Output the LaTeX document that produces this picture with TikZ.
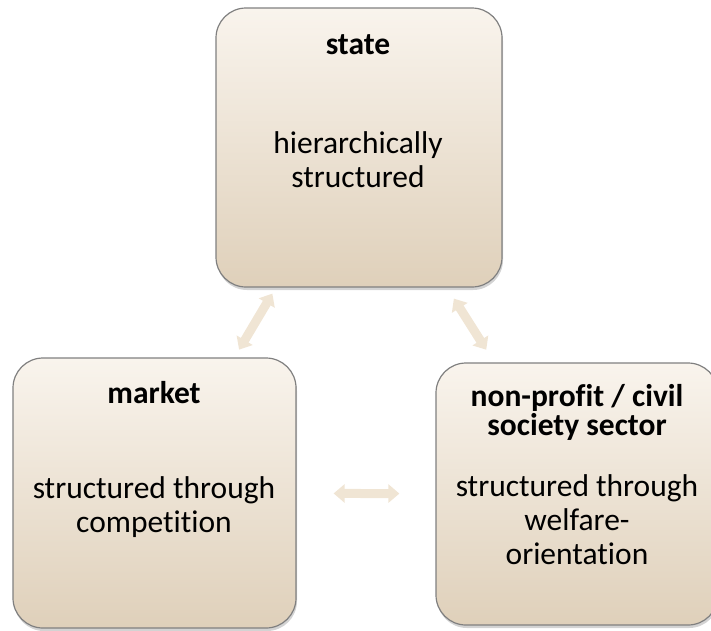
\documentclass[tikz,border=0pt]{standalone}
\usepackage{fontspec}
\setmainfont{Carlito}[Ligatures={NoCommon}]
\usetikzlibrary{positioning}
\usetikzlibrary{shadows}
\usetikzlibrary{arrows.meta}
\definecolor{boxtop}{RGB}{249,244,237}
\definecolor{boxbottom}{RGB}{223,208,186}
\definecolor{arrowfill}{RGB}{240,229,212}
\tikzstyle{sectorbox}=[rectangle,rounded corners=30pt,draw=black!50,line width=1.2pt,top color=boxtop,bottom color=boxbottom,drop shadow={shadow xshift=1pt,shadow yshift=-3pt,opacity=0.35},inner sep=0pt]
\tikzstyle{heading}=[font=\fontsize{31.5}{29}\selectfont\bfseries,align=center,inner sep=0pt]
\tikzstyle{body}=[font=\fontsize{31.5}{34}\selectfont,align=center,inner sep=0pt]
\tikzstyle{link}=[draw=arrowfill,line width=9pt,{Triangle[width=18pt,length=11pt]}-{Triangle[width=18pt,length=11pt]}]

\begin{document}
\begin{tikzpicture}[x=1pt,y=-1pt]
    \useasboundingbox (0,0) rectangle (711,630);
    % First the three boxes
    \foreach \pos/\name/\w/\h in {{(359,147.5)/state/286/279}, {(154.5,493)/market/283/270}, {(577,494)/sector/282/262}}
        \node[sectorbox, minimum width=\w pt, minimum height=\h pt] (\name) at \pos {};

    % Headings and descriptions
    \node[heading] (statehead) at (358,45) {state};
    \node[body] (statebody) at (358,160) {hierarchically\\structured};
    \node[heading] (markethead) at (154,393) {market};
    \node[body] (marketbody) at (154,507) {structured through\\competition};
    \node[heading] (sectorhead) at (577,412) {non-profit / civil\\society sector};
    \node[body] (sectorbody) at (577,520) {structured through\\welfare-\\orientation};

    % Arrows between the boxes
    \path[link, shorten <=7pt, shorten >=9pt] (state) -- (market);
    \path[link, shorten <=13pt, shorten >=15pt] (state) -- (sector);
    \path[link, shorten <=37pt, shorten >=36pt] (market) -- (sector);
\end{tikzpicture}
\end{document}
